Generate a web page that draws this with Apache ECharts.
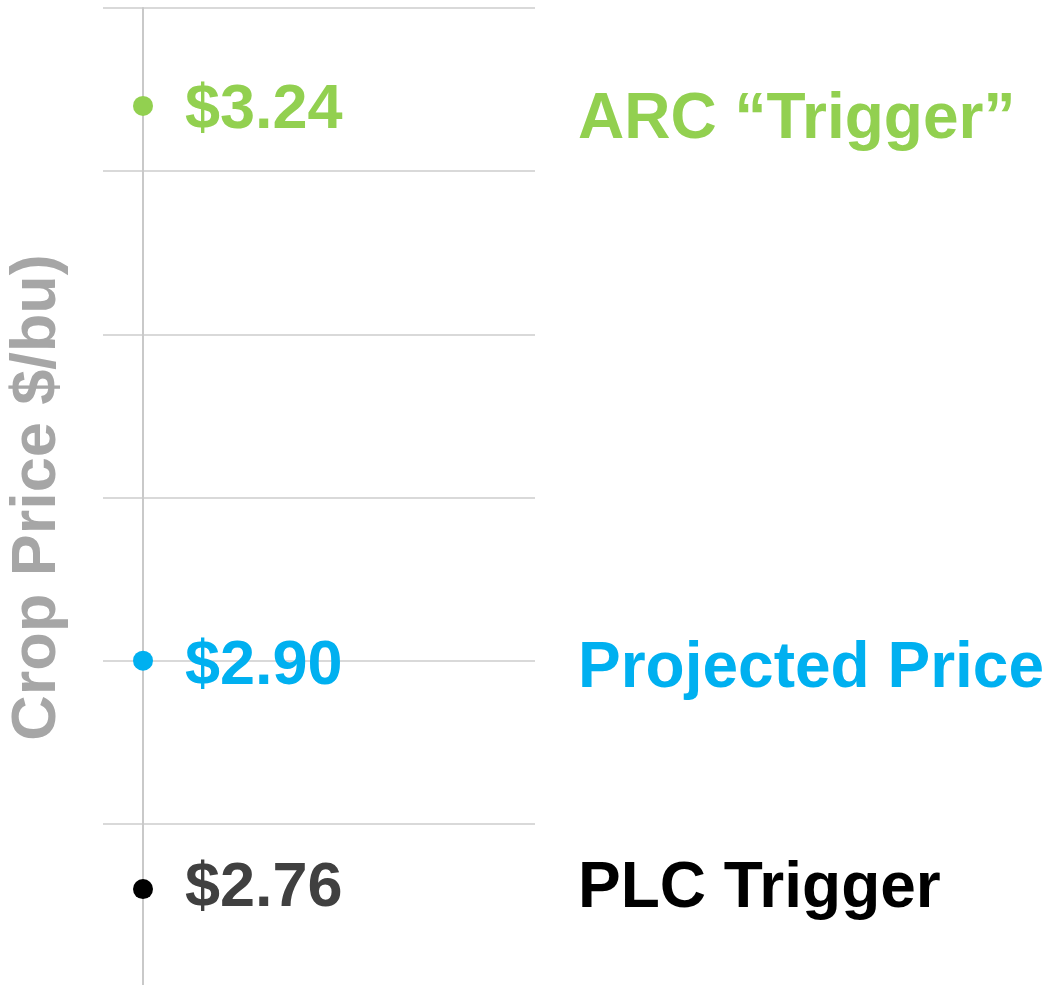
<!DOCTYPE html>
<html>
<head>
<meta charset="utf-8">
<script src="https://cdn.jsdelivr.net/npm/echarts@6/dist/echarts.min.js"></script>
<style>
  html, body { margin: 0; padding: 0; background: #fff; }
  #main { width: 1050px; height: 985px; }
</style>
</head>
<body>
<div id="main"></div>
<script>
// crop price triggers
var names = ['ARC \u201cTrigger\u201d', 'Projected Price', 'PLC Trigger'];
var prices = [3.24, 2.90, 2.76];
var dotColors = ['#92d050', '#00b0f0', '#000000'];
var valueColors = ['#92d050', '#00b0f0', '#404040'];
var nameColors = ['#92d050', '#00b0f0', '#000000'];
// small vertical nudges for the text, in px
var valueNudge = [5, 6, 0];
var nameNudge = [14, 9, 0];

var font = 'Liberation Sans';

var chart = echarts.init(document.getElementById('main'));

var dots = prices.map(function (p, i) {
  return {
    value: [0, p],
    itemStyle: { color: dotColors[i] },
    label: { color: valueColors[i], offset: [0, valueNudge[i]] }
  };
});

var tags = prices.map(function (p, i) {
  return {
    value: [0, p],
    name: names[i],
    label: { color: nameColors[i], offset: [0, nameNudge[i]] }
  };
});

var option = {
  animation: false,
  grid: { left: 103, right: 515, top: 8, bottom: -2, outerBoundsMode: 'none' },
  xAxis: {
    type: 'value',
    min: -1,
    max: 9.8,
    show: false
  },
  yAxis: {
    type: 'value',
    min: 2.7,
    max: 3.3,
    interval: 0.1,
    name: 'Crop Price $/bu)',
    nameLocation: 'middle',
    nameGap: 34,
    nameTextStyle: {
      color: '#a6a6a6',
      fontFamily: font,
      fontWeight: 'bold',
      fontSize: 63
    },
    axisLine: { show: true, onZero: true, lineStyle: { color: '#c9c9c9', width: 2 } },
    axisTick: { show: false },
    axisLabel: { show: false },
    splitLine: { lineStyle: { color: '#d9d9d9', width: 2 } }
  },
  series: [
    {
      type: 'scatter',
      symbolSize: 20,
      data: dots,
      z: 3,
      itemStyle: { opacity: 1 },
      label: {
        show: true,
        opacity: 1,
        position: 'right',
        distance: 32,
        fontFamily: font,
        fontWeight: 'bold',
        fontSize: 63,
        formatter: function (d) { return '$' + d.value[1].toFixed(2); }
      }
    },
    {
      type: 'scatter',
      symbolSize: 20,
      itemStyle: { color: 'rgba(0,0,0,0)', opacity: 1 },
      data: tags,
      z: 2,
      label: {
        show: true,
        opacity: 1,
        position: 'right',
        distance: 425,
        fontFamily: font,
        fontWeight: 'bold',
        fontSize: 64,
        formatter: '{b}'
      }
    }
  ]
};

chart.setOption(option);
</script>
</body>
</html>
